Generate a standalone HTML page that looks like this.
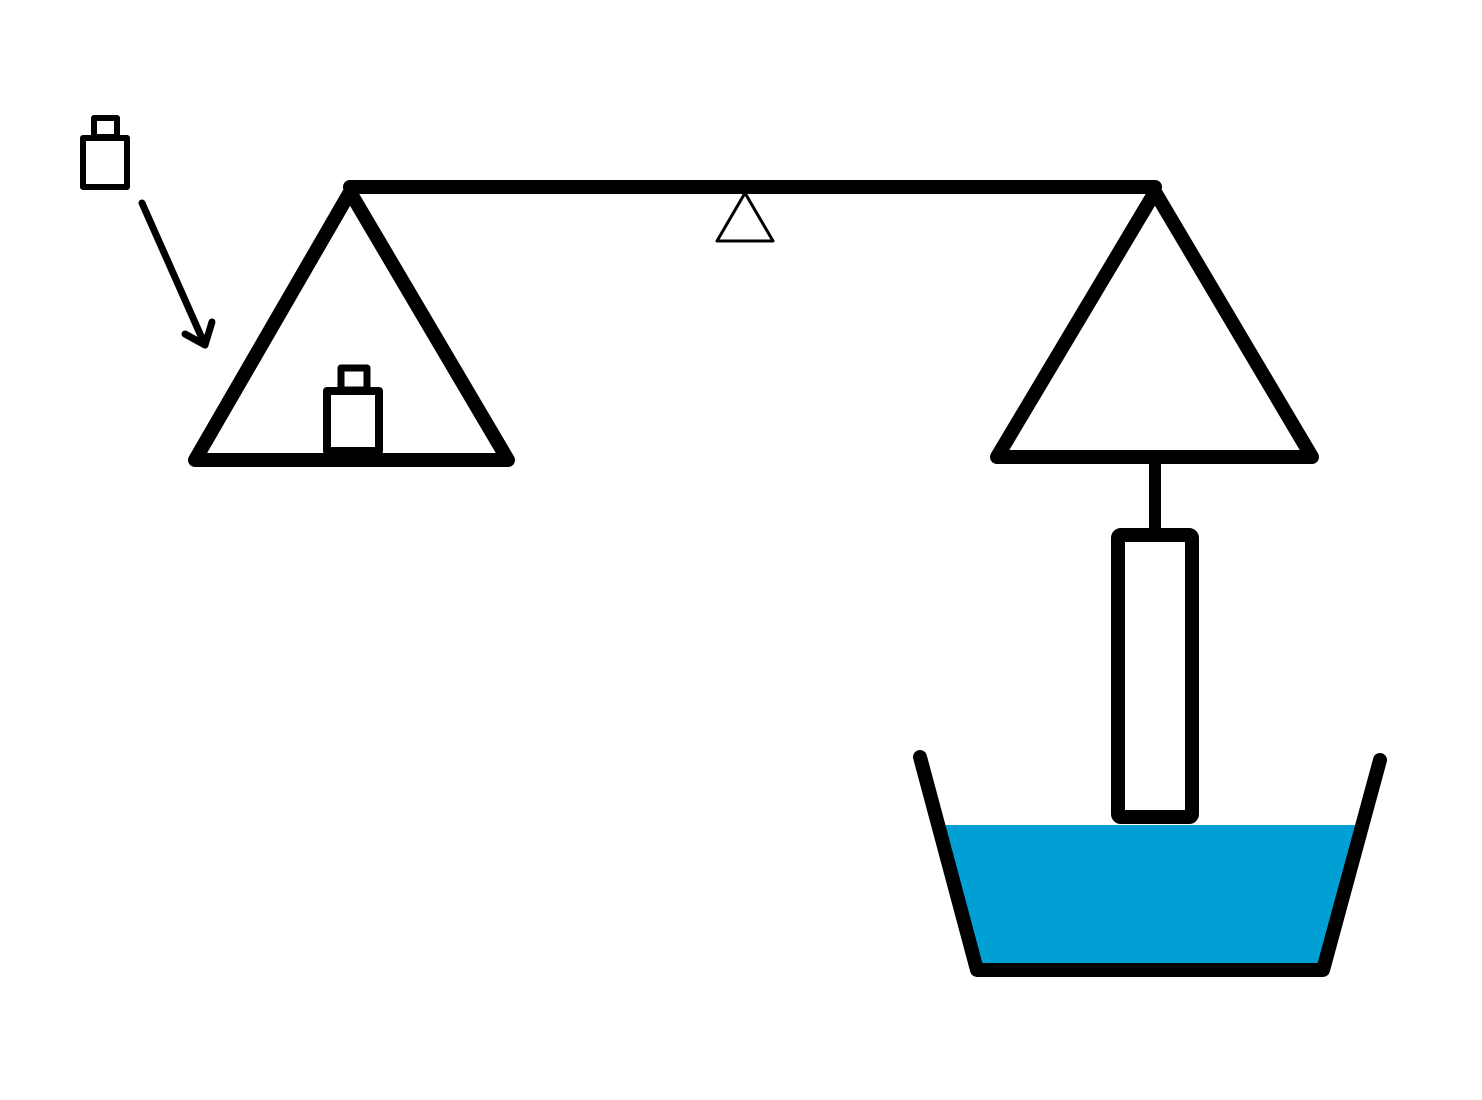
<!DOCTYPE html>
<html><head><meta charset="utf-8"><style>html,body{margin:0;padding:0;background:#fff}svg{display:block}</style></head>
<body>
<svg width="1482" height="1100" viewBox="0 0 1482 1100">
<g fill="none" stroke="#000" stroke-linecap="round" stroke-linejoin="round">
  <polygon points="945,825 1356,825 1320,967 980,967" fill="#009FD4" stroke="none"/>
  <line x1="350" y1="187" x2="1155" y2="187" stroke-width="14"/>
  <polygon points="745,193 717,241 773,241" fill="#fff" stroke-width="3"/>
  <polygon points="350,192 195,460 508,460" stroke-width="14"/>
  <polygon points="1155,192 997,457 1312,457" stroke-width="14"/>
  <g>
    <rect x="341" y="368" width="26" height="22" stroke-width="7"/>
    <rect x="327" y="391" width="52" height="60" stroke-width="8"/>
  </g>
  <g>
    <rect x="94" y="118" width="23" height="19" stroke-width="6"/>
    <rect x="83" y="138" width="44" height="49" stroke-width="6"/>
  </g>
  <g stroke-width="7">
    <line x1="142" y1="203" x2="205" y2="345"/>
    <line x1="205" y1="345" x2="185" y2="334"/>
    <line x1="205" y1="345" x2="212" y2="322"/>
  </g>
  <line x1="1155" y1="460" x2="1155" y2="530" stroke-width="12"/>
  <rect x="1118" y="535" width="74" height="282" fill="#fff" stroke-width="14" rx="3"/>
  <polyline points="920,757 977,970 1323,970 1380,760" stroke-width="14"/>
</g>
</svg>
</body></html>
